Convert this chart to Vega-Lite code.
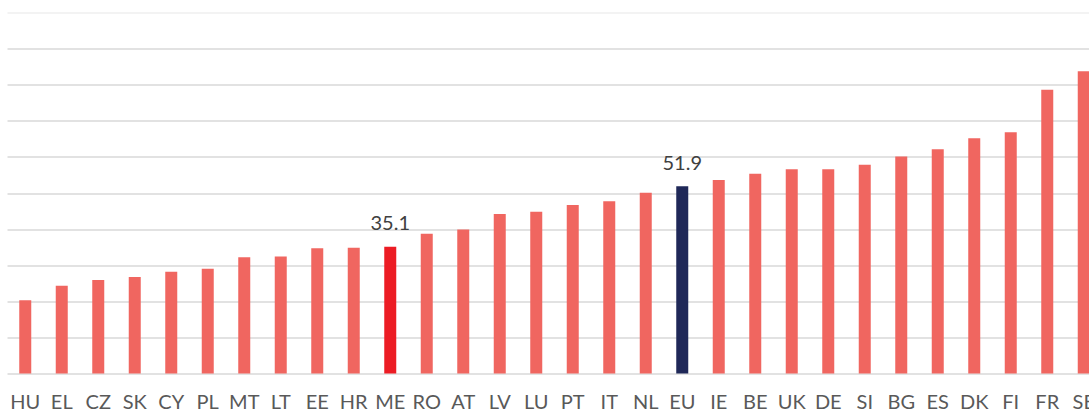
{
  "$schema": "https://vega.github.io/schema/vega-lite/v6.json",
  "width": 1095,
  "height": 361,
  "autosize": {"type": "none"},
  "padding": {"left": 7, "top": 12.5, "right": 0, "bottom": 38.5},
  "background": "white",
  "config": {"view": {"stroke": null}, "font": "Lato"},
  "data": {
    "values": [
      {"country": "HU", "value": 20.3, "group": "country"},
      {"country": "EL", "value": 24.3, "group": "country"},
      {"country": "CZ", "value": 25.9, "group": "country"},
      {"country": "SK", "value": 26.7, "group": "country"},
      {"country": "CY", "value": 28.2, "group": "country"},
      {"country": "PL", "value": 29.0, "group": "country"},
      {"country": "MT", "value": 32.2, "group": "country"},
      {"country": "LT", "value": 32.4, "group": "country"},
      {"country": "EE", "value": 34.7, "group": "country"},
      {"country": "HR", "value": 34.8, "group": "country"},
      {"country": "ME", "value": 35.1, "group": "ME"},
      {"country": "RO", "value": 38.7, "group": "country"},
      {"country": "AT", "value": 39.9, "group": "country"},
      {"country": "LV", "value": 44.2, "group": "country"},
      {"country": "LU", "value": 44.8, "group": "country"},
      {"country": "PT", "value": 46.7, "group": "country"},
      {"country": "IT", "value": 47.7, "group": "country"},
      {"country": "NL", "value": 50.1, "group": "country"},
      {"country": "EU", "value": 51.9, "group": "EU"},
      {"country": "IE", "value": 53.6, "group": "country"},
      {"country": "BE", "value": 55.3, "group": "country"},
      {"country": "UK", "value": 56.6, "group": "country"},
      {"country": "DE", "value": 56.6, "group": "country"},
      {"country": "SI", "value": 57.8, "group": "country"},
      {"country": "BG", "value": 60.1, "group": "country"},
      {"country": "ES", "value": 62.1, "group": "country"},
      {"country": "DK", "value": 65.2, "group": "country"},
      {"country": "FI", "value": 66.8, "group": "country"},
      {"country": "FR", "value": 78.6, "group": "country"},
      {"country": "SE", "value": 83.7, "group": "country"}
    ]
  },
  "encoding": {
    "x": {
      "field": "country",
      "type": "nominal",
      "sort": null,
      "scale": {"paddingInner": 0, "paddingOuter": 0},
      "axis": {
        "title": null,
        "labelAngle": 0,
        "ticks": false,
        "domain": false,
        "labelFont": "Lato",
        "labelFontSize": 20,
        "labelColor": "#595959",
        "labelBaseline": "alphabetic",
        "labelPadding": 35
      }
    },
    "y": {
      "field": "value",
      "type": "quantitative",
      "scale": {"domain": [0, 100], "nice": false},
      "axis": {
        "title": null,
        "labels": false,
        "ticks": false,
        "domain": false,
        "values": [0, 10, 20, 30, 40, 50, 60, 70, 80, 90, 100],
        "gridColor": {"condition": {"test": "datum.value === 100", "value": "#efefef"}, "value": "#d9d9d9"},
        "gridWidth": 1.5
      }
    }
  },
  "layer": [
    {
      "mark": {"type": "bar", "width": 12},
      "encoding": {
        "color": {
          "field": "group",
          "type": "nominal",
          "scale": {"domain": ["country", "ME", "EU"], "range": ["#F06660", "#EC1C24", "#1F2858"]},
          "legend": null
        }
      }
    },
    {
      "transform": [{"filter": "datum.group !== 'country'"}],
      "mark": {"type": "text", "baseline": "alphabetic", "dy": -16.5, "fontSize": 20, "font": "Lato", "color": "#404040"},
      "encoding": {"text": {"field": "value", "type": "quantitative", "format": ".1f"}}
    }
  ]
}
